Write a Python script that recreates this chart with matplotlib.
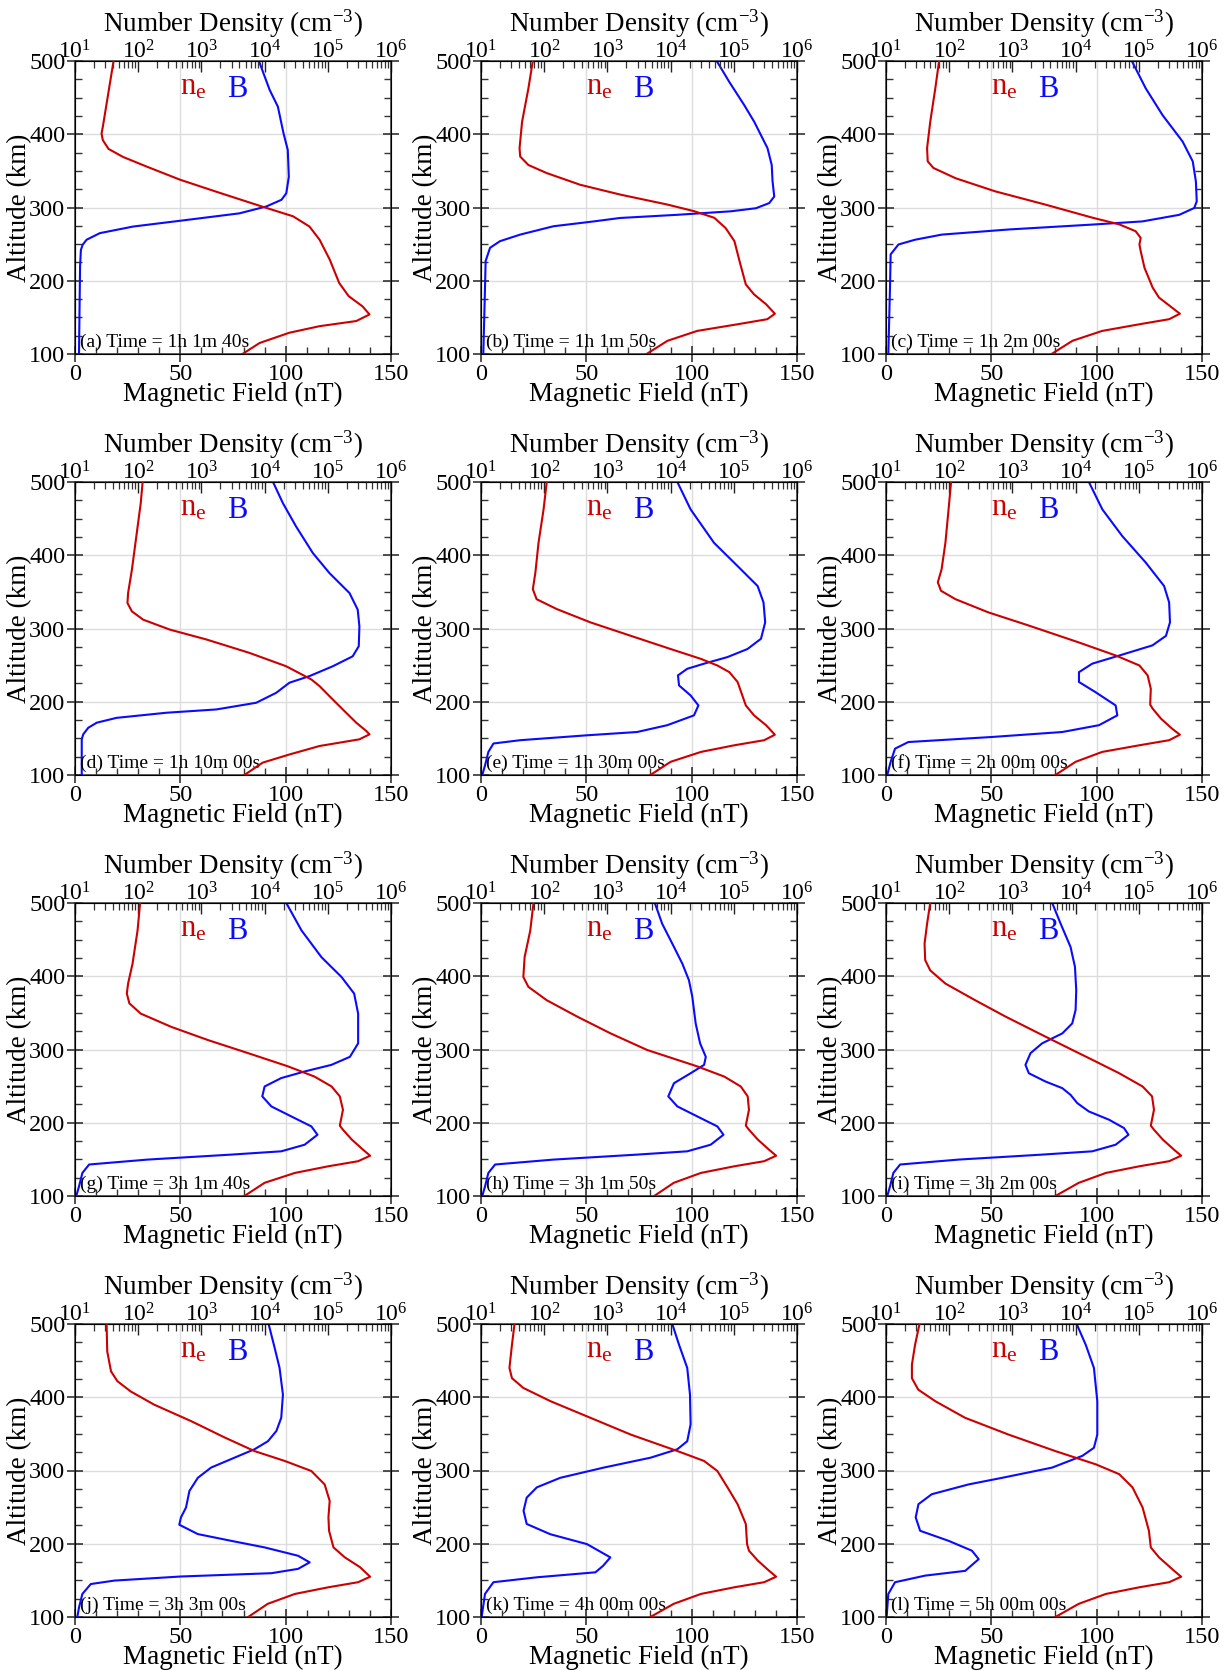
import numpy as np
import matplotlib
matplotlib.use("Agg")
import matplotlib.pyplot as plt
from matplotlib.ticker import MultipleLocator, LogLocator, NullFormatter

plt.rcParams.update({
    "font.family": ["Liberation Serif", "DejaVu Serif"],
    "mathtext.fontset": "custom",
    "mathtext.rm": "Liberation Serif",
    "mathtext.it": "Liberation Serif:italic",
    "mathtext.bf": "Liberation Serif:bold",
})

# ---------------- profiles: altitude (km), B (nT), log10 ne (cm^-3) ----------------
# (a) 1h 1m 40s
alt_B_a = [500, 460.5, 437.7, 401, 378.6, 342, 319.5, 310.5, 301.4, 292, 283, 274, 265, 256, 249, 242, 219.5, 100]
B_a = [87.3, 92.4, 96.3, 99, 101, 101.5, 100.3, 98, 90.8, 78, 53, 27.6, 11.8, 5.5, 3.6, 2.8, 2.4, 1.9]
alt_ne_a = [500, 447, 410, 401, 392, 380, 369, 356, 338, 320, 301, 288, 274, 256, 229, 197, 179, 165, 154, 145, 138, 129, 115, 100]
log_ne_a = [1.61, 1.51, 1.44, 1.42, 1.44, 1.53, 1.76, 2.13, 2.66, 3.29, 3.97, 4.45, 4.71, 4.87, 5.03, 5.18, 5.33, 5.55, 5.66, 5.45, 4.87, 4.39, 3.92, 3.65]

# (b) 1h 1m 50s
alt_B_b = [500, 471.7, 440, 417, 381, 358, 335.6, 315, 306, 299, 294.8, 290, 285.7, 281, 274.4, 263, 254, 245, 227, 190.5, 100]
B_b = [111.9, 117.8, 124.9, 129.7, 136, 138, 138.4, 139.2, 136.8, 130.5, 118.6, 93, 66, 53.5, 34.4, 18.6, 9, 4.3, 2.2, 1.9, 1.1]
alt_ne_b = [500, 462.6, 417, 381, 369.6, 358, 347, 331, 317.5, 304, 295, 286, 272, 254, 227, 195, 181.4, 168, 155, 147.5, 140.6, 131.5, 118, 100]
log_ne_b = [1.82, 1.75, 1.65, 1.61, 1.62, 1.75, 2.04, 2.57, 3.21, 3.95, 4.37, 4.69, 4.87, 5.01, 5.09, 5.19, 5.32, 5.51, 5.65, 5.53, 5.06, 4.42, 3.95, 3.62]

# (c) 1h 2m 00s
alt_B_c = [500, 462.6, 426, 390, 363, 335.6, 308.4, 299.3, 290, 281, 276.7, 270, 263, 256, 249.5, 236, 190.5, 100]
B_c = [116.7, 123.3, 131.3, 140.8, 145.6, 147.1, 147.5, 146.3, 139.2, 121.7, 98, 58.3, 26.5, 13.8, 5.9, 2.2, 1.9, 1.1]
alt_ne_c = [500, 462.6, 417, 381, 363, 354, 340, 322, 304, 286, 277, 267.6, 258.5, 249.5, 240.4, 217.7, 190.5, 177, 163, 155, 147.5, 140.6, 131.5, 118, 100]
log_ne_c = [1.84, 1.78, 1.70, 1.65, 1.66, 1.75, 2.10, 2.73, 3.52, 4.27, 4.69, 4.95, 5.03, 5.01, 5.03, 5.09, 5.22, 5.32, 5.53, 5.65, 5.48, 5.01, 4.42, 3.95, 3.62]

# (d) 1h 10m 00s
alt_B_d = [500, 471, 439, 403, 375.6, 348.4, 325.7, 303, 275.8, 262, 248.5, 235, 226, 212.2, 198.6, 189.5, 185, 178, 171.4, 164.5, 155.5, 148.7, 100]
B_d = [94, 98.7, 105, 112.9, 120.8, 130.3, 134.2, 135, 134.7, 131.8, 122.4, 111.3, 101.8, 95.5, 86, 67.1, 43.4, 19.7, 10.3, 6.3, 3.9, 3.2, 3.2]
alt_ne_d = [500, 471, 425.6, 380, 348.4, 334.8, 323.4, 312, 298.5, 285, 266.7, 248.5, 230.4, 221.3, 203, 185, 171.4, 160, 155.5, 148.7, 139.6, 128.2, 116.9, 100]
log_ne_d = [2.07, 2.04, 1.97, 1.90, 1.84, 1.83, 1.90, 2.08, 2.50, 3.08, 3.76, 4.34, 4.74, 4.87, 5.08, 5.29, 5.45, 5.61, 5.66, 5.50, 4.87, 4.40, 3.97, 3.68]

# (e) 1h 30m 00s
alt_B_e = [500, 462.6, 417, 385.5, 358, 335.6, 308.4, 286, 272, 261, 252, 245, 236, 222.3, 208.6, 195, 181.4, 168, 158.7, 154.2, 147.5, 143, 131.5, 113, 100]
B_e = [93.2, 99.5, 110.6, 121.7, 131.3, 134.1, 134.9, 132.9, 126.5, 117, 105.9, 97.9, 93.5, 94, 99.5, 103.2, 101.1, 88.4, 74.1, 50.3, 18.6, 5.9, 3.5, 1.9, 0.6]
alt_ne_e = [500, 462.6, 417, 376, 353.7, 340, 326.5, 308.4, 290, 272, 258.5, 249.5, 240.4, 227, 195, 181.4, 168, 155, 147.5, 140.6, 131.5, 118, 100]
log_ne_e = [2.04, 1.99, 1.91, 1.86, 1.82, 1.88, 2.20, 2.73, 3.37, 4.00, 4.48, 4.74, 4.93, 5.06, 5.19, 5.32, 5.51, 5.65, 5.48, 5.01, 4.48, 4.00, 3.68]

# (f) 2h 00m 00s
alt_B_f = [500, 462.6, 426, 390, 358, 335.6, 308.4, 290, 277, 263, 252, 240.4, 227, 213, 195, 181.4, 168, 158.7, 151.9, 145, 136, 118, 100]
B_f = [96.3, 102.7, 112.2, 123.3, 132, 134.4, 134.8, 132.9, 126.5, 110.6, 97.9, 91.6, 91.6, 99.5, 109, 109.8, 101.1, 83.7, 50.3, 10.6, 4.3, 2.2, 0.6]
alt_ne_f = [500, 462.6, 417, 381, 363, 351.5, 340, 322, 304, 281, 263, 249.5, 236, 217.7, 196, 190.5, 177, 163, 155, 147.5, 140.6, 131.5, 118, 100]
log_ne_f = [2.03, 1.99, 1.94, 1.88, 1.82, 1.87, 2.10, 2.62, 3.26, 4.05, 4.64, 5.01, 5.14, 5.19, 5.18, 5.22, 5.35, 5.53, 5.65, 5.48, 5.01, 4.42, 4.00, 3.68]

# (g) 3h 1m 40s
alt_B_g = [500, 462.6, 426, 399, 376.4, 349, 308.4, 290, 279, 270, 261, 249.5, 236, 222.3, 208.6, 195, 183.6, 170, 161, 156.5, 149.7, 143, 131.5, 113, 100]
B_g = [100.3, 107.5, 117, 126.5, 132.5, 134.4, 134.4, 130.5, 121.7, 109, 97.9, 90, 88.9, 93.2, 102.7, 112.2, 115.1, 109, 97.9, 74.1, 34.4, 6.7, 3.5, 1.9, 0.6]
alt_ne_g = [500, 462.6, 417, 390, 376.4, 363, 349, 331, 313, 295, 277, 263, 249.5, 236, 217.7, 196, 190.5, 177, 163, 155, 147.5, 140.6, 131.5, 118, 100]
log_ne_g = [2.03, 1.99, 1.91, 1.84, 1.82, 1.86, 2.04, 2.52, 3.10, 3.74, 4.37, 4.79, 5.06, 5.19, 5.24, 5.19, 5.24, 5.38, 5.56, 5.67, 5.48, 5.01, 4.48, 4.00, 3.68]

# (h) 3h 1m 50s
alt_B_h = [500, 471.7, 440, 417, 394.6, 372, 335.6, 308.4, 290, 279, 267.6, 254, 236, 222.3, 208.6, 195, 183.6, 170, 161, 156.5, 149.7, 143, 131.5, 113, 100]
B_h = [82.5, 86, 91.6, 95.6, 98.7, 100.3, 101.9, 104, 106.7, 105.9, 99.5, 91.6, 88.9, 93.2, 102.7, 112.2, 115.1, 109, 97.9, 74.1, 34.4, 6.7, 3.5, 1.9, 0.6]
alt_ne_h = [500, 462.6, 426, 399, 385.5, 367.3, 345, 322, 299.3, 277, 263, 249.5, 236, 217.7, 196, 190.5, 177, 163, 155, 147.5, 140.6, 131.5, 118, 100]
log_ne_h = [1.83, 1.78, 1.69, 1.67, 1.75, 2.04, 2.52, 3.05, 3.63, 4.42, 4.85, 5.11, 5.22, 5.24, 5.19, 5.24, 5.38, 5.56, 5.67, 5.48, 5.01, 4.48, 4.05, 3.74]

# (i) 3h 2m 00s
alt_B_i = [500, 471.7, 440, 412.7, 381, 354, 335.6, 322, 308.4, 295, 279, 267.6, 256.3, 247.2, 238.1, 226.8, 215.4, 204.1, 192.7, 183.6, 170, 161, 156.5, 149.7, 143, 131.5, 113, 100]
B_i = [78.9, 82.9, 87.6, 89.7, 90.3, 90, 88.4, 83.7, 74.1, 68.6, 66.2, 67.8, 75.7, 83.7, 87.6, 90.8, 96.3, 105.9, 113, 115.1, 109, 97.9, 74.1, 34.4, 6.7, 3.5, 1.9, 0.6]
alt_ne_i = [500, 471.7, 444.5, 422, 408, 390, 367.3, 345, 322, 299.3, 285.7, 267.6, 249.5, 236, 217.7, 196, 190.5, 177, 163, 155, 147.5, 140.6, 131.5, 118, 100]
log_ne_i = [1.70, 1.65, 1.61, 1.62, 1.70, 1.94, 2.41, 2.89, 3.42, 3.95, 4.27, 4.69, 5.06, 5.21, 5.24, 5.19, 5.24, 5.38, 5.56, 5.67, 5.48, 5.01, 4.48, 4.05, 3.68]

# (j) 3h 3m 00s
alt_B_j = [500, 471.7, 440, 403.6, 372, 354, 340, 329, 317.5, 304, 290, 272, 249.5, 236, 226, 213.2, 204, 195, 183.6, 174.6, 165.7, 159.8, 155.3, 149.7, 145, 131.5, 113, 100]
B_j = [91.9, 94.4, 97.1, 98.7, 97.9, 95.6, 91.6, 85.2, 75.7, 64.6, 58.3, 54.3, 52.7, 50.3, 49.5, 58.3, 74.1, 90, 105.9, 111.4, 105.9, 93.2, 50.3, 18.6, 7.5, 3.5, 1.9, 1.1]
alt_ne_j = [500, 462.6, 435.4, 422, 408, 390, 367.3, 345, 326.5, 313, 299.3, 281, 258.5, 236, 217.7, 195, 181.4, 168, 155, 147.5, 140.6, 131.5, 118, 100]
log_ne_j = [1.50, 1.51, 1.57, 1.67, 1.88, 2.25, 2.84, 3.37, 3.84, 4.32, 4.74, 4.95, 5.03, 5.01, 5.02, 5.09, 5.27, 5.51, 5.67, 5.48, 5.01, 4.48, 4.05, 3.74]

# (k) 4h 00m 00s
alt_B_k = [500, 471.7, 440, 403.6, 363, 340, 329, 317.5, 304, 290, 277, 263, 245, 227, 213, 199.5, 181.4, 170, 161, 154.2, 147.5, 131.5, 100]
B_k = [90.8, 94, 97.9, 99.2, 99.5, 97.9, 93.2, 80.5, 58.3, 37.6, 26.5, 21.7, 20.2, 21.7, 32.9, 50.3, 61.4, 58, 54.3, 26.5, 5.9, 1.9, 0.3]
alt_ne_k = [500, 471.7, 440, 426, 412.7, 394.6, 372, 349, 326.5, 313, 299.3, 277, 254, 227, 199.5, 190.5, 177, 163, 155, 147.5, 140.6, 131.5, 118, 100]
log_ne_k = [1.53, 1.49, 1.45, 1.49, 1.67, 2.10, 2.73, 3.37, 4.11, 4.53, 4.74, 4.90, 5.06, 5.19, 5.21, 5.24, 5.38, 5.56, 5.67, 5.48, 5.01, 4.48, 4.05, 3.68]

# (l) 5h 00m 00s
alt_B_l = [500, 471.7, 440, 394.6, 349, 331, 320, 304, 290, 281, 267.6, 254, 236, 217.7, 204, 190.5, 179, 163, 156.5, 147.5, 131.5, 100]
B_l = [90.5, 94.8, 98.7, 100.3, 100.3, 98.7, 93.2, 78.9, 55.1, 39.2, 21.7, 15.4, 14.1, 16.2, 29.7, 40.8, 44, 37.6, 18.6, 4.3, 1.1, 0.3]
alt_ne_l = [500, 471.7, 444.5, 426, 410.4, 394.6, 372, 349, 326.5, 308.4, 295, 277, 249.5, 217.7, 195, 181.4, 163, 155, 147.5, 140.6, 131.5, 118, 100]
log_ne_l = [1.53, 1.46, 1.41, 1.41, 1.51, 1.78, 2.25, 2.94, 3.68, 4.32, 4.69, 4.90, 5.06, 5.16, 5.19, 5.32, 5.56, 5.67, 5.48, 5.01, 4.48, 4.05, 3.68]

panel_letters = ["a", "b", "c", "d", "e", "f", "g", "h", "i", "j", "k", "l"]
panel_times = ["1h 1m 40s", "1h 1m 50s", "1h 2m 00s", "1h 10m 00s", "1h 30m 00s", "2h 00m 00s",
               "3h 1m 40s", "3h 1m 50s", "3h 2m 00s", "3h 3m 00s", "4h 00m 00s", "5h 00m 00s"]

panels = [
    (alt_B_a, B_a, alt_ne_a, log_ne_a), (alt_B_b, B_b, alt_ne_b, log_ne_b), (alt_B_c, B_c, alt_ne_c, log_ne_c),
    (alt_B_d, B_d, alt_ne_d, log_ne_d), (alt_B_e, B_e, alt_ne_e, log_ne_e), (alt_B_f, B_f, alt_ne_f, log_ne_f),
    (alt_B_g, B_g, alt_ne_g, log_ne_g), (alt_B_h, B_h, alt_ne_h, log_ne_h), (alt_B_i, B_i, alt_ne_i, log_ne_i),
    (alt_B_j, B_j, alt_ne_j, log_ne_j), (alt_B_k, B_k, alt_ne_k, log_ne_k), (alt_B_l, B_l, alt_ne_l, log_ne_l),
]

RED = "#cc0000"
BLUE = "#0a0aff"

# ---------------- layout (pixels on a 1228 x 1671 canvas) ----------------
W, H = 1228, 1671
col_left = [75, 481, 886]
row_top = [61, 482, 903, 1324]
ax_w, ax_h = 316, 293

fig = plt.figure(figsize=(W / 100, H / 100), dpi=100)

for idx, (altB, B, altN, logN) in enumerate(panels):
    r, c = divmod(idx, 3)
    x0, y0 = col_left[c], row_top[r]
    ax = fig.add_axes([x0 / W, 1 - (y0 + ax_h) / H, ax_w / W, ax_h / H])
    ax.set_xlim(0, 150)
    ax.set_ylim(100, 500)
    ax.grid(True, which="major", color="#dcdcdc", lw=1.0)
    ax.set_axisbelow(True)
    ax.xaxis.set_major_locator(MultipleLocator(50))
    ax.xaxis.set_minor_locator(MultipleLocator(10))
    ax.yaxis.set_major_locator(MultipleLocator(100))
    ax.yaxis.set_minor_locator(MultipleLocator(25))
    ax.tick_params(which="major", direction="inout", length=12, width=1.1, labelsize=17.5,
                   left=True, right=True, bottom=True, top=False, pad=1.0, colors="#222222",
                   labelcolor="black")
    ax.tick_params(which="minor", direction="in", length=5, width=1.0,
                   left=True, right=True, bottom=True, top=False, colors="#333333")
    for s in ax.spines.values():
        s.set_linewidth(1.1)
        s.set_color("#333333")
    ax.set_xlabel("Magnetic Field (nT)", fontsize=19.5)
    ax.set_ylabel("Altitude (km)", fontsize=19.5)
    # label anchors: top edge of the x label, right edge of the rotated y label
    ax.xaxis.set_label_coords(0.5, -0.095)
    ax.yaxis.set_label_coords(-0.135, 0.5)

    ax.plot(B, altB, color=BLUE, lw=1.5, zorder=3, solid_joinstyle="round")

    ax2 = ax.twiny()
    ax2.set_xscale("log")
    ax2.set_xlim(10, 1e6)
    ax2.xaxis.set_major_locator(LogLocator(base=10, numticks=10))
    ax2.xaxis.set_minor_locator(LogLocator(base=10, subs=np.arange(2, 10), numticks=10))
    ax2.xaxis.set_minor_formatter(NullFormatter())
    ax2.tick_params(which="major", direction="in", length=8, width=1.0, labelsize=17, pad=-2.0,
                    colors="#222222", labelcolor="black")
    ax2.tick_params(which="minor", direction="in", length=5, width=0.9, colors="#333333")
    ax2.set_xlabel(r"Number Density (cm$^{-3}$)", fontsize=19.5)
    ax2.xaxis.set_label_coords(0.5, 1.1)
    ax2.plot(10 ** np.array(logN), altN, color=RED, lw=1.5, zorder=3, solid_joinstyle="round")

    ax.text(0.332, 0.884, r"n$_\mathrm{e}$", color=RED, fontsize=22, transform=ax.transAxes,
            va="baseline", ha="left")
    ax.text(0.48, 0.877, "B", color=BLUE, fontsize=22, transform=ax.transAxes,
            va="baseline", ha="left")
    ax.text(0.015, 0.025, f"({panel_letters[idx]}) Time = {panel_times[idx]}", fontsize=14,
            transform=ax.transAxes, va="baseline", ha="left", zorder=5)

fig.savefig("out.png", dpi=100)
